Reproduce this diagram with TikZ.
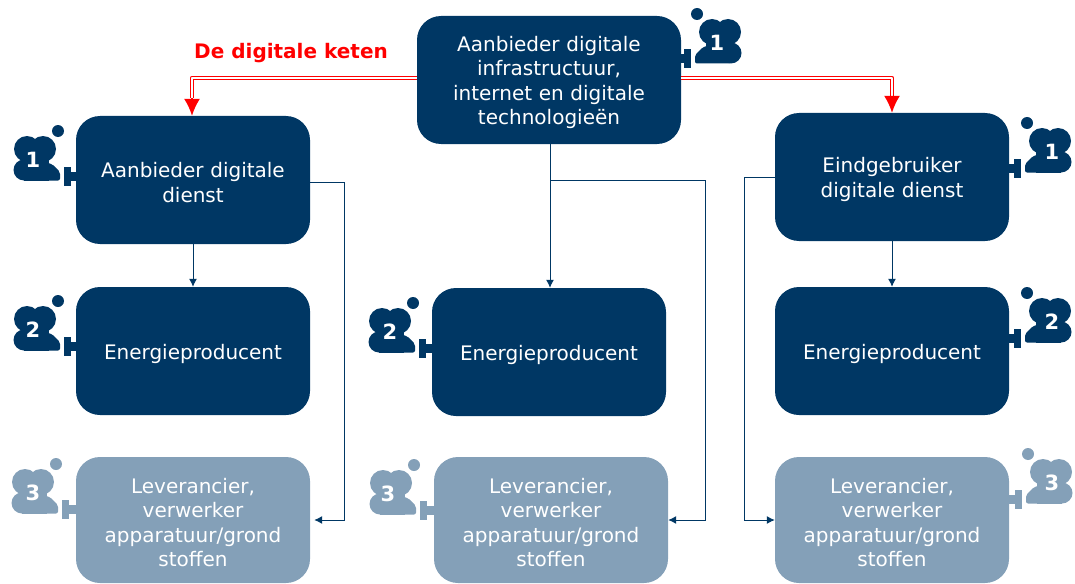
\documentclass[tikz,border=0pt]{standalone}
\usepackage{fontspec}
\setmainfont{DejaVu Sans}
\usetikzlibrary{arrows.meta}
\definecolor{navy}{HTML}{003764}
\definecolor{slate}{HTML}{84A0B8}
\definecolor{netred}{HTML}{FF0000}
\tikzset{
  x=1pt,y=-1pt,
  box/.style={rectangle,rounded corners=24pt,minimum width=234pt,minimum height=128pt,inner sep=0pt,
    text=white,align=center,font=\fontsize{20}{24.4}\selectfont,text width=225pt,
    execute at begin node={\rule{0pt}{20.5pt}}},
  navybox/.style={box,fill=navy},
  slatebox/.style={box,fill=slate},
  conn/.style={draw=navy,line width=1pt,-{Latex[length=8pt,width=8pt]}},
  chain/.style={draw=netred,line width=1.5pt,double=white,double distance=1.5pt,line join=round},
  chainhead/.style={draw=netred,line width=1.6pt,-{Latex[length=17pt,width=16pt]}},
  digit/.style={text=white,inner sep=0pt,font=\fontsize{21}{21}\selectfont\bfseries},
  pics/cloudicon/.style n args={2}{code={
    \fill (-3,-4.5) rectangle (5,4.5);
    \fill (4,-9.5) rectangle (11,9.5);
    \fill (17,-45) circle (6);
    \fill (32,-27) circle (13);
    \fill (48,-27) circle (13);
    \fill (51,-6) circle (10.5);
    \fill[rounded corners=2pt] (15,4.5) -- (15,-4) -- (23,-12) -- (40,-16) -- (51,4.5) -- cycle;
    \fill (26,-27) rectangle (50,-6);
    \fill (26,-6) rectangle (51,4.5);
    \node[digit] (digit) at (#2,-16) {#1};
  }},
}
\begin{document}
\begin{tikzpicture}
\useasboundingbox (0,0) rectangle (1075,583);
% boxes
\node[navybox,minimum width=264pt] (A) at (549,80) {Aanbieder digitale\\infrastructuur,\\internet en digitale\\technologieën};
\node[navybox] (L1) at (193,180) {Aanbieder digitale\\dienst};
\node[navybox] (L2) at (193,351) {Energieproducent};
\node[slatebox,minimum height=126pt] (L3) at (193,520) {Leverancier,\\verwerker\\apparatuur/grond\\stoffen};
\node[navybox] (M2) at (549,352) {Energieproducent};
\node[slatebox,minimum height=126pt] (M3) at (551,520) {Leverancier,\\verwerker\\apparatuur/grond\\stoffen};
\node[navybox] (R1) at (892,177) {Eindgebruiker\\digitale dienst};
\node[navybox] (R2) at (892,351) {Energieproducent};
\node[slatebox,minimum height=126pt] (R3) at (892,520) {Leverancier,\\verwerker\\apparatuur/grond\\stoffen};
% icons
\begin{scope}[navy]
\pic (iA) at (680,59) {cloudicon={1}{37}};
\pic[xscale=-1] (iL1) at (75,176) {cloudicon={1}{42}};
\pic[xscale=-1] (iL2) at (75,346) {cloudicon={2}{42}};
\pic[xscale=-1] (iM2) at (430,348) {cloudicon={2}{40}};
\pic (iR1) at (1010,168) {cloudicon={1}{42}};
\pic (iR2) at (1010,338) {cloudicon={2}{42}};
\end{scope}
\begin{scope}[slate]
\pic[xscale=-1] (iL3) at (73,509) {cloudicon={3}{40}};
\pic[xscale=-1] (iM3) at (431,510) {cloudicon={3}{43}};
\pic (iR3) at (1011,499) {cloudicon={3}{41}};
\end{scope}
% red chain
\node[text=netred,inner sep=0pt,font=\fontsize{20}{22}\selectfont\bfseries] (chainlabel) at (291,53) {De digitale keten};
\coordinate (redL) at (192,98);
\coordinate (redR) at (892,96);
\draw[chain] (A.west |- 0,78) -| (redL);
\draw[chain] (A.east |- 0,78) -| (redR);
\draw[chainhead] (redL) -- (L1.north -| redL);
\draw[chainhead] (redR) -- (R1.north -| redR);
% connectors
\coordinate (mbranch) at (550,180);
\draw[conn] (L1) -- (L2);
\draw[conn] (R1) -- (R2);
\draw[conn] (A.south -| mbranch) -- (M2.north -| mbranch);
\draw[conn] ([yshift=-2pt]L1.east) -- ++(34,0) |- ([xshift=4pt]L3.east);
\draw[conn] (mbranch) -- (705,180) |- (M3.east);
\draw[conn] (R1.west) -- (744,177) |- (R3.west);
\end{tikzpicture}
\end{document}
